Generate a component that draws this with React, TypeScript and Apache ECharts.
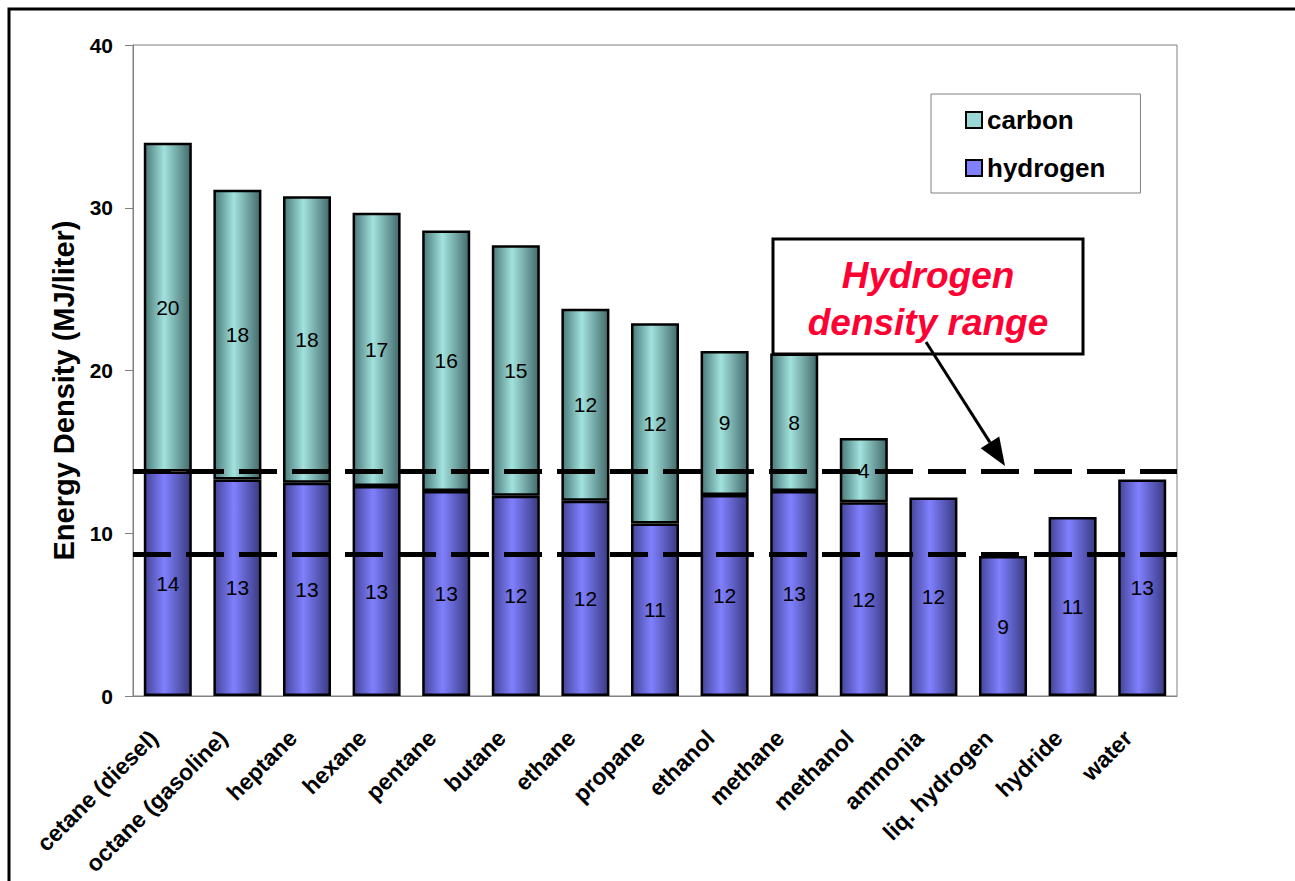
import React, { useEffect, useRef } from "react";
import * as echarts from "echarts";

const categories = [
  "cetane (diesel)", "octane (gasoline)", "heptane", "hexane", "pentane", "butane",
  "ethane", "propane", "ethanol", "methane", "methanol", "ammonia", "liq. hydrogen", "hydride", "water",
];
const hydrogen = [13.8, 13.3, 13.1, 12.9, 12.6, 12.3, 12.0, 10.6, 12.35, 12.6, 11.9, 12.2, 8.6, 11.0, 13.3];
const carbon = [20.2, 17.8, 17.6, 16.8, 16.0, 15.4, 11.8, 12.3, 8.85, 8.45, 3.95, null, null, null, null];
const rangeLines = [13.8, 8.7];
const yTicks = { min: 0, max: 40, interval: 10 };

const FONT = "Liberation Sans, Arial, sans-serif";

export default function App() {
  const ref = useRef<HTMLDivElement>(null);
  useEffect(() => {
    document.body.style.margin = "0";
    const chart = echarts.init(ref.current!, null, { renderer: "svg" });
    const carbonGrad = new echarts.graphic.LinearGradient(0, 0, 1, 0, [
      { offset: 0, color: "#4a7a7a" },
      { offset: 0.42, color: "#a2e2de" },
      { offset: 1, color: "#436b6b" },
    ]);
    const hydroGrad = new echarts.graphic.LinearGradient(0, 0, 1, 0, [
      { offset: 0, color: "#45459a" },
      { offset: 0.42, color: "#8080ff" },
      { offset: 1, color: "#3a3a82" },
    ]);
    const labelCfg = {
      show: true,
      position: "inside",
      color: "#000",
      fontFamily: FONT,
      fontSize: 21,
      formatter: (p: any) => (p.value == null ? "" : String(Math.round(p.value))),
    };
    // arrow geometry
    const ax0 = 926, ay0 = 342, ax1 = 1005, ay1 = 466;
    const dx = ax1 - ax0, dy = ay1 - ay0, len = Math.sqrt(dx * dx + dy * dy);
    const ux = dx / len, uy = dy / len;
    const hl = 28, hw = 11;
    const bx = ax1 - hl * ux, by = ay1 - hl * uy;

    chart.setOption({
      animation: false,
      textStyle: { fontFamily: FONT },
      grid: {
        left: 133, right: 118, top: 45, bottom: 185,
        show: true, borderColor: "#808080", borderWidth: 1, backgroundColor: "transparent",
      },
      legend: {
        orient: "vertical",
        left: 931, top: 94,
        borderColor: "#808080", borderWidth: 1,
        padding: [13, 35, 12, 34],
        itemGap: 22,
        itemWidth: 16, itemHeight: 16,
        textStyle: { fontFamily: FONT, fontSize: 26, fontWeight: "bold", color: "#000" },
        data: [
          { name: "carbon", icon: "rect", itemStyle: { color: "#99d8d4", borderColor: "#000", borderWidth: 2 } },
          { name: "hydrogen", icon: "rect", itemStyle: { color: "#8080ff", borderColor: "#000", borderWidth: 2 } },
        ],
      },
      xAxis: {
        type: "category",
        data: categories,
        axisLine: { lineStyle: { color: "#808080", width: 1 } },
        axisTick: { show: false },
        axisLabel: {
          rotate: 45, interval: 0, margin: 24,
          padding: [0, 20, 0, 0],
          color: "#000", fontFamily: FONT, fontSize: 23, fontWeight: "bold",
        },
      },
      yAxis: {
        type: "value",
        min: yTicks.min, max: yTicks.max, interval: yTicks.interval,
        name: "Energy Density (MJ/liter)",
        nameLocation: "middle",
        nameGap: 49,
        nameTextStyle: {
          fontFamily: FONT, fontSize: 29, fontWeight: "bold", color: "#000",
          padding: [0, 40, 0, 0],
        },
        axisLine: { show: true, lineStyle: { color: "#808080", width: 1 } },
        axisTick: { show: true, length: 8, lineStyle: { color: "#808080" } },
        splitLine: { show: false },
        axisLabel: { color: "#000", fontFamily: FONT, fontSize: 21, fontWeight: "bold", margin: 20 },
      },
      series: [
        {
          name: "hydrogen",
          type: "bar",
          stack: "total",
          data: hydrogen,
          barCategoryGap: "31%",
          itemStyle: { color: hydroGrad, borderColor: "#000", borderWidth: 2.5 },
          label: labelCfg,
        },
        {
          name: "carbon",
          type: "bar",
          stack: "total",
          data: carbon,
          barCategoryGap: "31%",
          itemStyle: { color: carbonGrad, borderColor: "#000", borderWidth: 2.5 },
          label: labelCfg,
          markLine: {
            silent: true,
            symbol: ["none", "none"],
            label: { show: false },
            lineStyle: { color: "#000", width: 5, type: [38, 15] },
            data: rangeLines.map((v) => ({ yAxis: v })),
          },
        },
      ],
      graphic: [
        {
          type: "rect", z: 100, silent: true,
          shape: { x: 9, y: 9, width: 1400, height: 900 },
          style: { fill: "none", stroke: "#000", lineWidth: 3 },
        },
        {
          type: "rect", z: 100,
          shape: { x: 773, y: 239, width: 310, height: 115 },
          style: { fill: "#fff", stroke: "#000", lineWidth: 3 },
        },
        {
          type: "text", z: 101, x: 928, y: 275,
          style: {
            text: "Hydrogen", fill: "#ff0033", font: `italic bold 37px ${FONT}`,
            textAlign: "center", textVerticalAlign: "middle",
          },
        },
        {
          type: "text", z: 101, x: 928, y: 322,
          style: {
            text: "density range", fill: "#ff0033", font: `italic bold 37px ${FONT}`,
            textAlign: "center", textVerticalAlign: "middle",
          },
        },
        {
          type: "line", z: 102,
          shape: { x1: ax0, y1: ay0, x2: bx, y2: by },
          style: { stroke: "#000", lineWidth: 3 },
        },
        {
          type: "polygon", z: 102,
          shape: {
            points: [
              [ax1, ay1],
              [bx - hw * uy, by + hw * ux],
              [bx + hw * uy, by - hw * ux],
            ],
          },
          style: { fill: "#000" },
        },
      ],
    });
    return () => chart.dispose();
  }, []);
  return <div ref={ref} style={{ width: 1295, height: 881 }} />;
}
